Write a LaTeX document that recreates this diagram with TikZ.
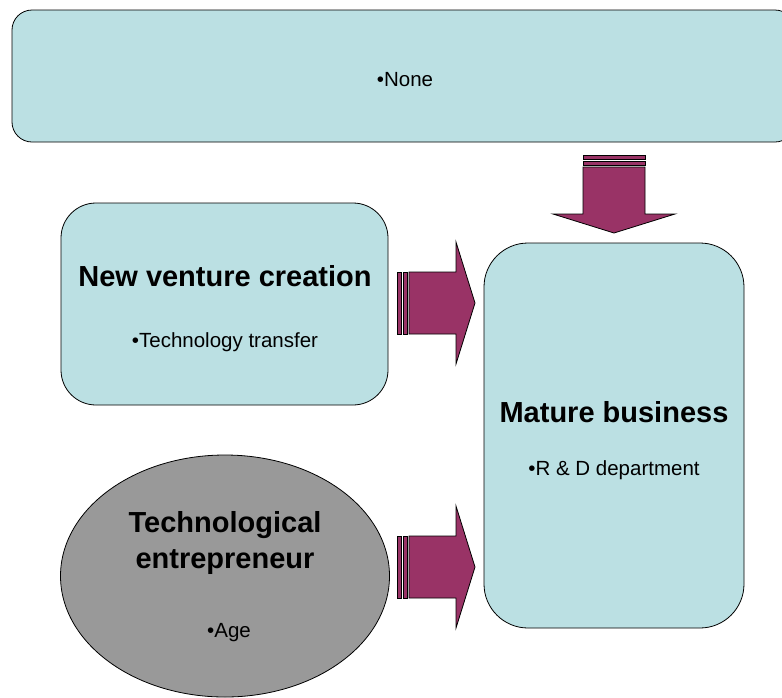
\documentclass[tikz,border=0pt]{standalone}
\usepackage{fontspec}
\setmainfont{Liberation Sans}
\usetikzlibrary{positioning, shapes.geometric}

\definecolor{boxcyan}{HTML}{BBE0E3}
\definecolor{arrowplum}{HTML}{993366}
\definecolor{ovalgray}{HTML}{999999}

\tikzset{
  roundbox/.style={draw=black, line width=0.8pt, fill=boxcyan, rounded corners=#1, inner sep=0pt},
  ovalbox/.style={draw=black, line width=0.8pt, fill=ovalgray, ellipse, inner sep=0pt},
  headline/.style={font=\bfseries\fontsize{29}{33}\selectfont, anchor=base},
  bulletline/.style={font=\fontsize{20.5}{24}\selectfont, anchor=base},
  fatarrow/.style={draw=black, fill=arrowplum, line width=0.8pt},
}

% striped block arrow: #1 = tip, #2 = rotation
\newcommand{\fatarrowshape}[2]{%
  \begin{scope}[shift={(#1)}, rotate=#2]
    \filldraw[fatarrow] (-78,-31) rectangle (-74,31);
    \filldraw[fatarrow] (-72,-31) rectangle (-68,31);
    \filldraw[fatarrow] (-66,-31) -- (-19,-31) -- (-19,-61) -- (0,0)
      -- (-19,61) -- (-19,31) -- (-66,31) -- cycle;
  \end{scope}}

\begin{document}
\begin{tikzpicture}[x=1pt, y=-1pt]
    \useasboundingbox (0,0) rectangle (782,697);

    % boxes
    \node[roundbox=20pt, minimum width=783pt, minimum height=132pt] (none) at (403.5,76) {};
    \node[roundbox=35pt, minimum width=327pt, minimum height=202pt] (venture) at (224.5,304) {};
    \node[roundbox=44pt, minimum width=260pt, minimum height=385pt] (mature) at (614,435.5) {};
    \node[ovalbox, minimum width=329pt, minimum height=242pt] (entre) at (225,576) {};

    % texts
    \node[bulletline] (nonetext) at (405,86) {\textbullet None};
    \node[headline] (venturetitle) at (225,286) {New venture creation};
    \node[bulletline] (venturetext) at (225,347) {\textbullet Technology transfer};
    \node[headline] (maturetitle) at (614,422) {Mature business};
    \node[bulletline] (maturetext) at (614,475) {\textbullet R \& D department};
    \node[headline] (entretitle) at (225,532) {Technological};
    \node[headline, below=0pt of entretitle.base, anchor=base, yshift=-36pt] (entretitlelow) {entrepreneur};
    \node[bulletline] (entretext) at (229,637) {\textbullet Age};

    % arrows
    \coordinate (tipdown) at (614,233);
    \coordinate (tipventure) at (475,303);
    \coordinate (tipentre) at (475,567);
    \fatarrowshape{tipdown}{-90}
    \fatarrowshape{tipventure}{0}
    \fatarrowshape{tipentre}{0}
\end{tikzpicture}
\end{document}
